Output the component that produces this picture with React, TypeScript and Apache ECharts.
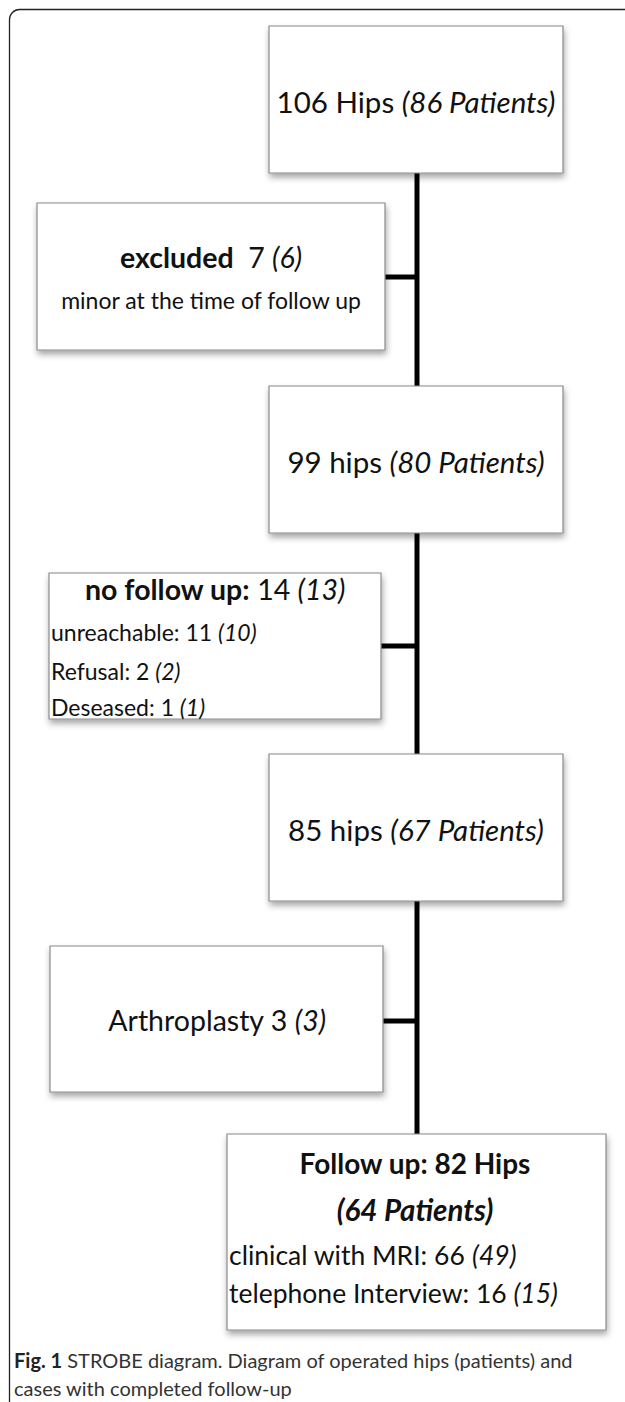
import React, { useEffect, useRef } from "react";
import * as echarts from "echarts";

// ---- data ----
const mainHips = [106, 99, 85, 82];
const mainPatients = [86, 80, 67, 64];
const mainHipWord = ["Hips", "hips", "hips", "Hips"];
const exclusionLabels = ["excluded", "no follow up:", "Arthroplasty"];
const exclusionHips = [7, 14, 3];
const exclusionPatients = [6, 13, 3];
const excludedReason = "minor at the time of follow up";
const noFollowUpReasons = ["unreachable", "Refusal", "Deseased"];
const noFollowUpHips = [11, 2, 1];
const noFollowUpPatients = [10, 2, 1];
const followUpModes = ["clinical with MRI", "telephone Interview"];
const followUpHips = [66, 16];
const followUpPatients = [49, 15];
const captionBold = "Fig. 1";
const captionLines = [
  " STROBE diagram. Diagram of operated hips (patients) and",
  "cases with completed follow-up",
];

const FONT = "Lato, 'Open Sans', sans-serif";
const INK = "#111";

function richStyles(size: number) {
  return {
    b: { fontSize: size, fontFamily: FONT, fontWeight: "bold", fill: INK },
    i: { fontSize: size, fontFamily: FONT, fontStyle: "italic", fill: INK },
    bi: { fontSize: size, fontFamily: FONT, fontStyle: "italic", fontWeight: "bold", fill: INK },
  };
}

function txt(text: string, x: number, y: number, size: number, align = "center", extra: any = {}) {
  return {
    type: "text",
    x,
    y,
    z: 10,
    style: {
      text,
      fontSize: size,
      fontFamily: FONT,
      fill: INK,
      align,
      verticalAlign: "middle",
      rich: richStyles(size),
      ...extra,
    },
  };
}

function box(x: number, y: number, w: number, h: number) {
  return {
    type: "rect",
    z: 5,
    shape: { x, y, width: w, height: h },
    style: {
      fill: "#fff",
      stroke: "#8a8a8a",
      lineWidth: 1.2,
      shadowBlur: 6,
      shadowOffsetX: 1,
      shadowOffsetY: 4,
      shadowColor: "rgba(0,0,0,0.35)",
    },
  };
}

function hline(x1: number, x2: number, y: number) {
  return {
    type: "line",
    z: 2,
    shape: { x1, y1: y, x2, y2: y },
    style: { stroke: "#000", lineWidth: 5 },
  };
}

export default function App() {
  const ref = useRef<HTMLDivElement>(null);
  useEffect(() => {
    if (!ref.current) return;
    const chart = echarts.init(ref.current, undefined, { renderer: "svg" });
    const spineX = 417;
    const mainX = 269, mainW = 294;
    const mainTops = [26, 386, 754];
    const mainH = 147;

    const elements: any[] = [];
    // outer frame
    elements.push({
      type: "rect",
      z: 1,
      shape: { x: 9.5, y: 9.5, width: 700, height: 1430, r: 10 },
      style: { fill: "none", stroke: "#222", lineWidth: 1.3 },
    });
    // spine
    elements.push({
      type: "line",
      z: 2,
      shape: { x1: spineX, y1: 170, x2: spineX, y2: 1136 },
      style: { stroke: "#000", lineWidth: 5 },
    });

    // main boxes 1-3
    mainTops.forEach((t, i) => {
      elements.push(box(mainX, t, mainW, mainH));
      elements.push(
        txt(`${mainHips[i]} ${mainHipWord[i]} {i|(${mainPatients[i]} Patients)}`, mainX + mainW / 2, t + 75, 29.5)
      );
    });

    // excluded box
    elements.push(box(37, 203, 348, 147));
    elements.push(hline(385, spineX, 277));
    elements.push(
      txt(`{b|${exclusionLabels[0]}}  ${exclusionHips[0]} {i|(${exclusionPatients[0]})}`, 211, 257, 28.5)
    );
    elements.push(txt(excludedReason, 211, 300, 23));

    // no follow up box
    elements.push(box(49, 573, 332, 146));
    elements.push(hline(381, spineX, 646));
    elements.push(
      txt(`{b|${exclusionLabels[1]}} ${exclusionHips[1]} {i|(${exclusionPatients[1]})}`, 215, 589, 28.5)
    );
    const reasonYs = [632, 671, 707];
    noFollowUpReasons.forEach((r, i) => {
      elements.push(txt(`${r}: ${noFollowUpHips[i]} {i|(${noFollowUpPatients[i]})}`, 51, reasonYs[i], 23, "left"));
    });

    // arthroplasty box
    elements.push(box(50, 946, 333, 146));
    elements.push(hline(383, spineX, 1021));
    elements.push(
      txt(`${exclusionLabels[2]} ${exclusionHips[2]} {i|(${exclusionPatients[2]})}`, 217, 1020, 28.5)
    );

    // follow up box
    elements.push(box(227, 1134, 379, 196));
    elements.push(txt(`{b|Follow up: ${mainHips[3]} ${mainHipWord[3]}}`, 415, 1163, 28));
    elements.push(txt(`{bi|(${mainPatients[3]} Patients)}`, 415, 1209, 29.5));
    const modeYs = [1255, 1293];
    followUpModes.forEach((m, i) => {
      elements.push(txt(`${m}: ${followUpHips[i]} {i|(${followUpPatients[i]})}`, 229, modeYs[i], 26.5, "left"));
    });

    // caption
    const capStyle = {
      fill: "#333",
      rich: {
        b: { fontSize: 20, fontFamily: FONT, fontWeight: "bold", fill: "#222" },
      },
    };
    elements.push(txt(`{b|${captionBold}}${captionLines[0]}`, 14, 1360, 20, "left", capStyle));
    elements.push(txt(captionLines[1], 14, 1388, 20, "left", { fill: "#333" }));

    chart.setOption({
      animation: false,
      backgroundColor: "#fff",
      graphic: { elements },
    });
    return () => chart.dispose();
  }, []);
  return (
    <div
      ref={ref}
      style={{ position: "absolute", left: 0, top: 0, width: 625, height: 1402 }}
    />
  );
}
